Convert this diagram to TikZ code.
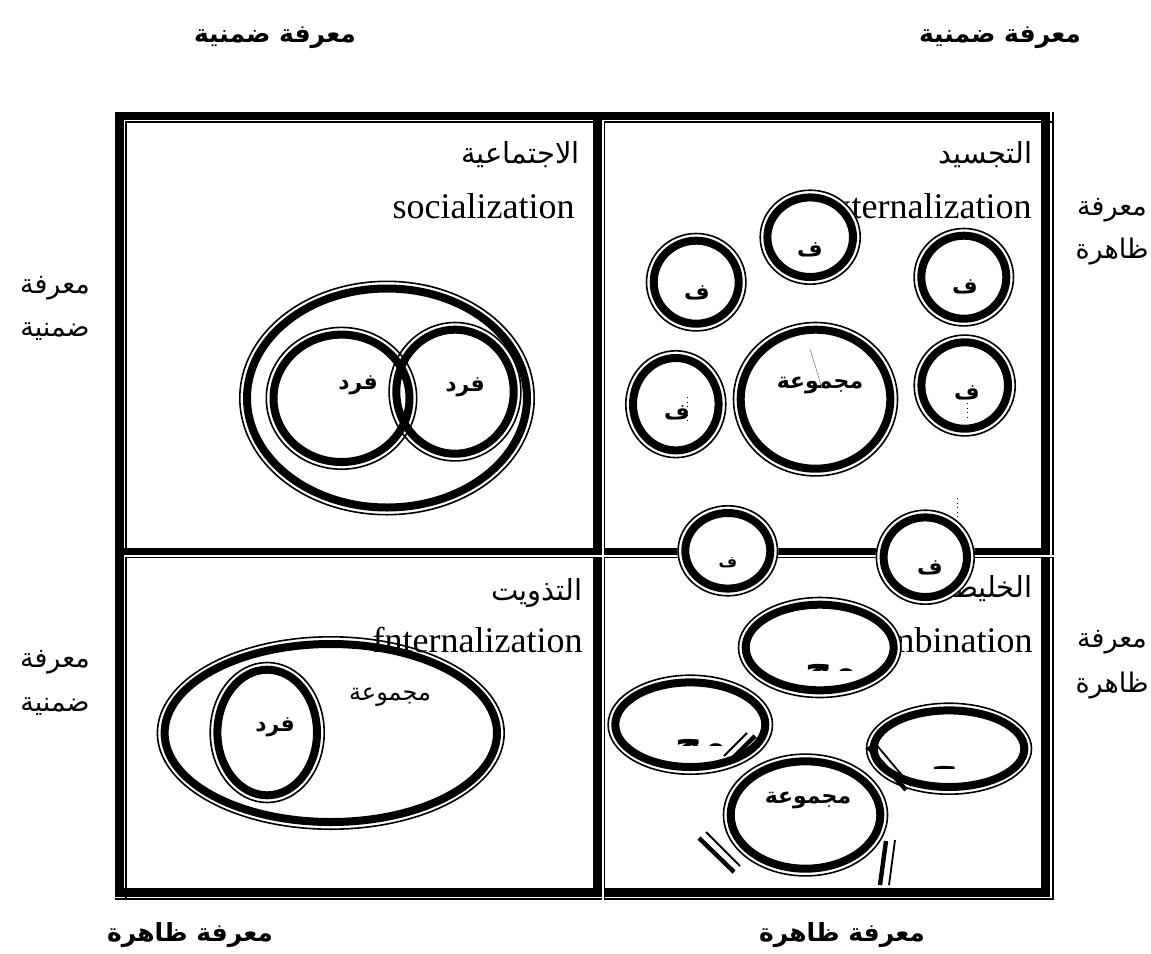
\documentclass[tikz,border=0pt]{standalone}
\usepackage{fontspec}
\setmainfont{Liberation Serif}
\newfontfamily\arabicfont[Script=Arabic]{DejaVu Sans}
\TeXXeTstate=1
\newcommand{\ar}[1]{\arabicfont\beginR #1\endR}
% double ring: thin outer line, thick inner line; cx cy rx ry (outer extent)
\newcommand{\dring}[4]{%
  \fill[white] (#1,#2) ellipse [x radius=#3, y radius=#4];
  \draw[ringthin] (#1,#2) ellipse [x radius=#3-0.8, y radius=#4-0.8];
  \draw[ringthick] (#1,#2) ellipse [x radius=#3-8, y radius=#4-8];}
\newcommand{\dringnf}[4]{%
  \draw[ringthin] (#1,#2) ellipse [x radius=#3-0.8, y radius=#4-0.8];
  \draw[ringthick] (#1,#2) ellipse [x radius=#3-8, y radius=#4-8];}
\begin{document}
\begin{tikzpicture}[x=0.5pt,y=-0.5pt,
  thickb/.style={line width=4.5pt,line cap=butt},
  thinb/.style={line width=0.85pt,line cap=butt},
  gapb/.style={white,line width=0.7pt,line cap=butt},
  ringthin/.style={line width=0.8pt},
  ringthick/.style={line width=4pt},
  barthick/.style={line width=2.2pt},
  barthin/.style={line width=0.9pt},
  en/.style={font=\fontsize{18}{20}\selectfont, inner sep=0pt, anchor=base east},
  art/.style={font=\arabicfont\fontsize{14.5}{16}\selectfont, inner sep=0pt, anchor=base east},
  side/.style={font=\arabicfont\fontsize{13.5}{15}\selectfont, inner sep=0pt},
  axis/.style={font=\arabicfont\bfseries\fontsize{12.5}{15}\selectfont, inner sep=0pt},
  lbl/.style={font=\arabicfont\bfseries\fontsize{11}{13}\selectfont, inner sep=0pt},
  lbls/.style={font=\arabicfont\bfseries\fontsize{8}{10}\selectfont, inner sep=0pt},
  clipt/.style={font=\arabicfont\bfseries\fontsize{19}{21}\selectfont, inner sep=0pt, anchor=base east},
  cursor/.style={line width=0.3pt, dotted}]
\fill[white] (0,0) rectangle (1151,953);
\useasboundingbox (0,0) rectangle (1151,953);

% ---------- axis labels ----------
\node[axis] (tl) at (275,38) {\ar{معرفة ضمنية}};
\node[axis] (tr) at (1000,38) {\ar{معرفة ضمنية}};
\node[axis] (bl) at (190,935) {\ar{معرفة ظاهرة}};
\node[axis] (br) at (842,935) {\ar{معرفة ظاهرة}};
\node[side] (l1a) at (55,288) {\ar{معرفة}};
\node[side] (l1b) at (55,332) {\ar{ضمنية}};
\node[side] (l2a) at (55,662) {\ar{معرفة}};
\node[side] (l2b) at (55,707) {\ar{ضمنية}};
\node[side] (r1a) at (1112,210) {\ar{معرفة}};
\node[side] (r1b) at (1112,252) {\ar{ظاهرة}};
\node[side] (r2a) at (1112,642) {\ar{معرفة}};
\node[side] (r2b) at (1112,686) {\ar{ظاهرة}};

% ---------- frame ----------
\draw[thickb] (119.5,112) -- (119.5,897);
\draw[thickb] (597.5,112) -- (597.5,897);
\draw[thickb] (1045.5,112) -- (1045.5,897);
\draw[thickb,line width=4.25pt] (115,116.2) -- (1050,116.2);
\draw[thickb,line width=3.9pt] (115,551.5) -- (1050,551.5);
\draw[thickb] (115,892.5) -- (1050,892.5);
\draw[thinb] (125.8,121) -- (125.8,900);
\draw[thinb] (604.2,121) -- (604.2,900);
\draw[thinb] (1052.8,112) -- (1052.8,900);
\draw[thinb] (125,121.9) -- (1054,121.9);
\draw[thinb] (125,557.6) -- (1054,557.6);
\draw[thinb] (115,899.2) -- (1054,899.2);
\draw[gapb] (602.9,121) -- (602.9,900);
\draw[gapb] (124,556) -- (1054,556);

% ---------- socialization ----------
\node[art] (t1) at (580,163) {\ar{الاجتماعية}};
\node[en] (e1) at (575,218) {socialization};
\dringnf{387}{398}{148}{117.5}
\dringnf{341.5}{398.3}{76}{71.7}
\dringnf{455}{391.7}{66.7}{70}
\node[lbl] (f1) at (358,385) {\ar{فرد}};
\node[lbl] (f2) at (465,387) {\ar{فرد}};

% ---------- externalization ----------
\node[art] (t2) at (1033,163) {\ar{التجسيد}};
\node[en] (e2) at (1032,218) {Externalization};
\dring{810.2}{237.2}{50.8}{47.8}
\dring{696.2}{282.2}{50.5}{49.5}
\dring{963.8}{277.2}{50.5}{49.5}
\dring{815.5}{399.2}{82.8}{77.5}
\dring{675.8}{404.2}{50.8}{54.2}
\dring{964.7}{385.5}{51.3}{51.2}
\node[lbl] (g1) at (810,250) {\ar{ف}};
\node[lbl] (g2) at (697,293) {\ar{ف}};
\node[lbl] (g3) at (965,287) {\ar{ف}};
\node[lbl] (g4) at (820,385) {\ar{مجموعة}};
\node[lbl] (g5) at (677,413) {\ar{ف}};
\node[lbl] (g6) at (967,393) {\ar{ف}};
\draw[line width=0.3pt,gray] (810,349) -- (822,388);
\draw[cursor] (687,397) -- (687,422);
\draw[cursor] (967,403) -- (967,417);
\draw[cursor] (957,498) -- (957,517);

% ---------- combination ----------
\node[art] (t3) at (1033,597) {\ar{الخليط}};
\node[en] (e3) at (1033,652) {Combination};
\dring{727.8}{550.8}{50.5}{45.8}
\dring{925.3}{557.2}{49.7}{47.8}
\node[lbls] (g7) at (728,563) {\ar{ف}};
\node[lbl] (g8) at (930,568) {\ar{ف}};

\dring{819.7}{647.5}{82}{50.8}
\begin{scope}
  \clip (795,652) rectangle (870,670);
  \node[clipt] (c1) at (857,680) {\ar{مج}};
\end{scope}
\dring{805.5}{815}{82.8}{61.7}
\node[lbl] (g9) at (808,800) {\ar{مجموعة}};
\dring{690.3}{724.7}{83}{50.3}
\begin{scope}
  \clip (665,729) rectangle (735,745);
  \node[clipt] (c2) at (727,755) {\ar{مج}};
\end{scope}
\dring{949}{748.7}{83.3}{46.3}
\begin{scope}
  \clip (925,759) rectangle (990,768);
  \node[clipt] (c3) at (983,782) {\ar{مج}};
\end{scope}
% double bars
\draw[barthick] (731,760) -- (755,736);
\draw[barthin] (724,756) -- (747,733);
\draw[barthick] (868,747) -- (906,790);
\draw[barthin] (874,742) -- (911,786);
\draw[barthick] (699,838) -- (734,872);
\draw[barthin] (706,832) -- (740,866);
\draw[barthick] (880,885) -- (886,841);
\draw[barthin] (889,885) -- (895,840);

% ---------- internalization ----------
\dring{330.8}{733}{174.2}{97}
\dring{267.2}{732.5}{57.8}{70.8}
\node[art] (t4) at (583,600) {\ar{التذويت}};
\node[en] (e4) at (583,652) {fnternalization};
\node[lbl] (h1) at (275,727) {\ar{فرد}};
\node[font=\arabicfont\fontsize{12}{14}\selectfont, inner sep=0pt] (h2) at (390,697) {\ar{مجموعة}};
\end{tikzpicture}
\end{document}
